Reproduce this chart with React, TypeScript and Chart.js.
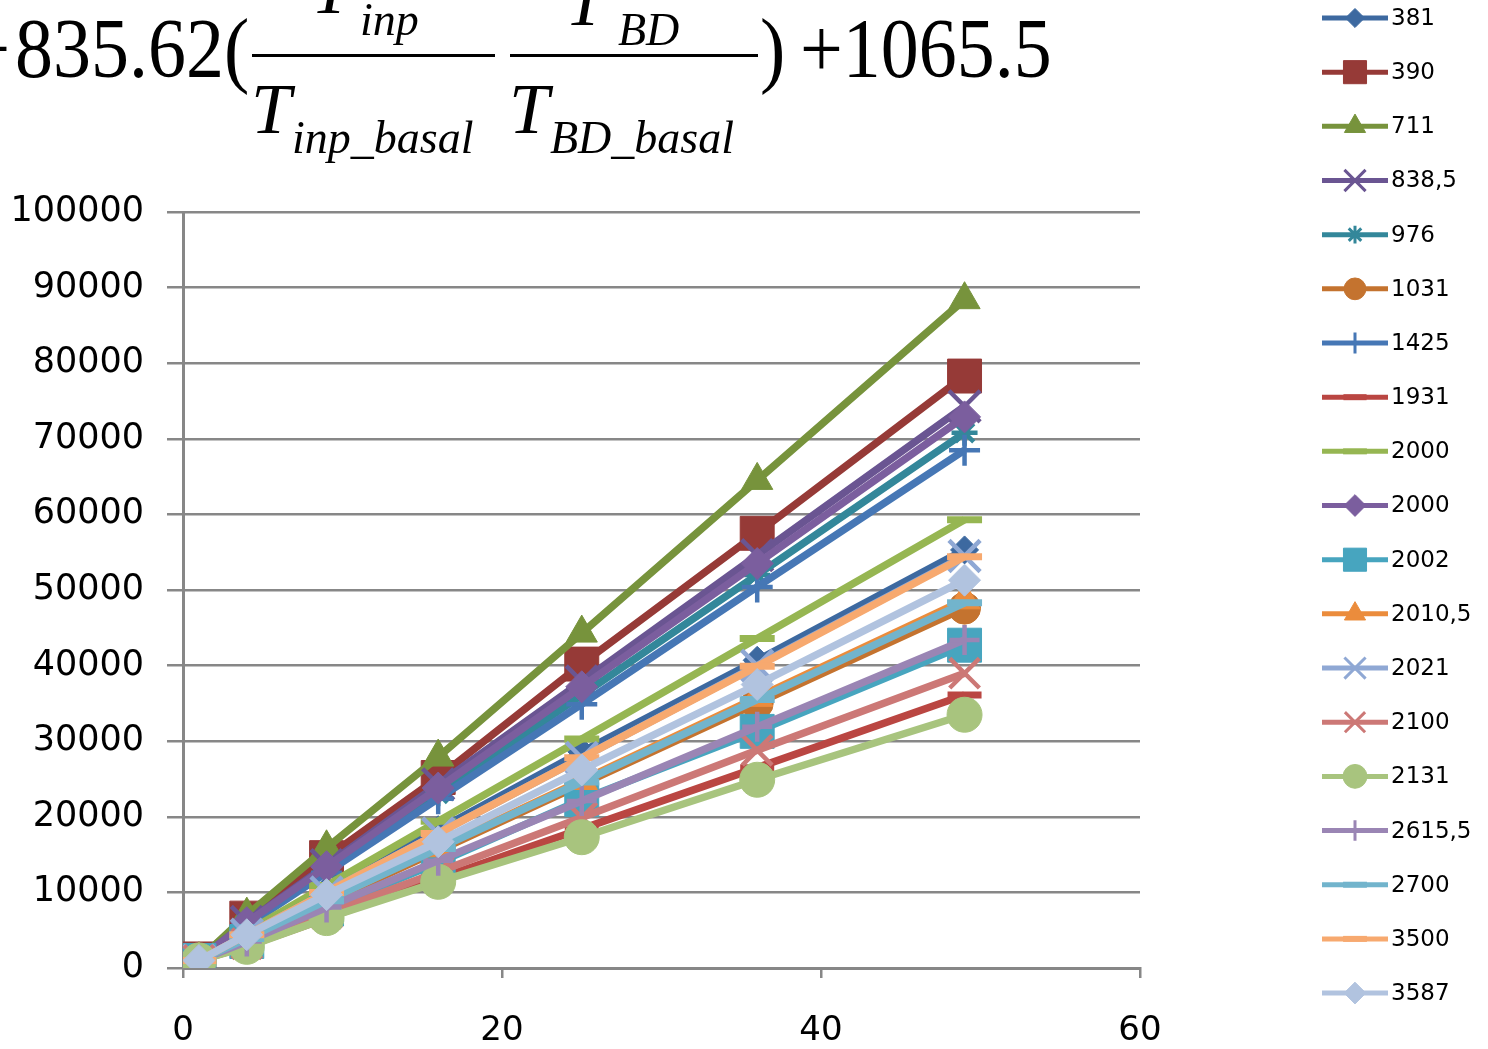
import React, { useEffect, useRef } from 'react';
import { Chart, registerables } from 'chart.js';
import { drawPoint } from 'chart.js/helpers';

Chart.register(...registerables);

// ---- data ----
const xValues = [1, 4, 9, 16, 25, 36, 49];
const seriesNames = ['381', '390', '711', '838,5', '976', '1031', '1425', '1931', '2000', '2000', '2002', '2010,5', '2021', '2100', '2131', '2615,5', '2700', '3500', '3587'];
const s381 = [1100, 4500, 10300, 18300, 28600, 40700, 55300];
const s390 = [1200, 6600, 14600, 25200, 40200, 57500, 78300];
const s711 = [1100, 7000, 15900, 27900, 44300, 64500, 88400];
const s838 = [1100, 6100, 13600, 24300, 37900, 54600, 74300];
const s976 = [1100, 5800, 13000, 23100, 36100, 52000, 70800];
const s1031 = [1000, 3900, 8700, 15500, 24300, 35000, 47600];
const s1425 = [1100, 5600, 12600, 22400, 34900, 50400, 68500];
const s1931 = [1000, 2900, 6600, 11800, 18400, 26500, 36100];
const s2000a = [1100, 4800, 10900, 19400, 30300, 43600, 59300];
const s2000b = [1100, 6000, 13400, 23800, 37200, 53500, 72900];
const s2002 = [1000, 3500, 7800, 13900, 22300, 31300, 42700];
const s2010 = [1000, 4000, 8900, 15900, 24800, 35800, 48700];
const s2021 = [1000, 4400, 10000, 17800, 27800, 40000, 54500];
const s2100 = [1000, 3200, 7200, 12700, 19900, 28800, 39000];
const s2131 = [1000, 2800, 6600, 11400, 17300, 24900, 33500];
const s2615 = [1000, 3500, 8000, 14200, 22100, 31900, 43400];
const s2700 = [1000, 3900, 8900, 15800, 24600, 35500, 48300];
const s3500 = [1000, 4400, 10000, 17800, 27800, 39900, 54400];
const s3587 = [1000, 4400, 9700, 16700, 26200, 37500, 51300];
const seriesValues = [s381, s390, s711, s838, s976, s1031, s1425, s1931, s2000a, s2000b, s2002, s2010, s2021, s2100, s2131, s2615, s2700, s3500, s3587];
const xTicks = [0, 20, 40, 60];
const yMax = 100000;
const yStep = 10000;

// ---- styles ----
const colors = ['#3D69A0', '#963A37', '#77933C', '#6A5592', '#33879A', '#C4732F', '#4677B5', '#BA4642', '#96B652', '#7B5E9E', '#47A5BF', '#EB8C3C', '#8FA8D4', '#CC7876', '#A8C47E', '#9A85B4', '#72B4CC', '#F7A96F', '#B1C3DF'];
const pointStyles = ['rectRot', 'rect', 'triangle', 'crossRot', 'star', 'circle', 'cross', 'line', 'line', 'rectRot', 'rect', 'triangle', 'crossRot', 'crossRot', 'circle', 'cross', 'line', 'line', 'rectRot'];
const pointRadii = [14, 24, 18, 22, 13, 16, 15.5, 17, 17.5, 16, 24, 18, 22, 21, 17.5, 15, 17.5, 17.5, 16];
const strokeStyles = new Set(['cross', 'crossRot', 'star', 'line']);

const legendPlugin = {
  id: 'sideLegend',
  afterDraw(chart: any) {
    const ctx = chart.ctx;
    chart.data.datasets.forEach((ds: any, i: number) => {
      const y = 18 + i * 54.17;
      ctx.save();
      ctx.strokeStyle = ds.borderColor;
      ctx.lineWidth = 5;
      ctx.lineCap = 'butt';
      ctx.beginPath();
      ctx.moveTo(1322, y);
      ctx.lineTo(1388, y);
      ctx.stroke();
      const ps = ds.pointStyle;
      const isStroke = strokeStyles.has(ps);
      ctx.fillStyle = ds.borderColor;
      ctx.strokeStyle = ds.borderColor;
      ctx.lineWidth = isStroke ? (ps === 'line' ? 6 : 3) : 1;
      drawPoint(ctx, { pointStyle: ps, rotation: 0, radius: ds.pointRadius * 0.68, borderWidth: ctx.lineWidth }, 1355, y);
      ctx.fillStyle = '#000';
      ctx.font = '23px "DejaVu Sans"';
      ctx.textBaseline = 'middle';
      ctx.textAlign = 'left';
      ctx.fillText(ds.label, 1391, y + 1);
      ctx.restore();
    });
  },
};

function Formula() {
  const serif = "'Liberation Serif', 'Times New Roman', serif";
  return (
    <svg width={1488} height={175} style={{ position: 'absolute', left: 0, top: 0, pointerEvents: 'none' }}>
      <g fontFamily={serif} fill="#000">
        <text transform="translate(10,77) scale(1,1.12)" fontSize={76} textAnchor="end">−</text>
        <text transform="translate(15,77) scale(1,1.12)" fontSize={76}>835.62(</text>
        <rect x={252} y={54} width={243} height={3} />
        <rect x={510} y={54} width={248} height={3} />
        <text transform="translate(311,13)" fontSize={72} fontStyle="italic">T</text>
        <text transform="translate(360,35)" fontSize={46} fontStyle="italic">inp</text>
        <text transform="translate(565,25)" fontSize={72} fontStyle="italic">T</text>
        <text transform="translate(618,45)" fontSize={46} fontStyle="italic">BD</text>
        <text transform="translate(251,133)" fontSize={72} fontStyle="italic">T</text>
        <text transform="translate(292,153)" fontSize={46} fontStyle="italic">inp_basal</text>
        <text transform="translate(509,133)" fontSize={72} fontStyle="italic">T</text>
        <text transform="translate(550,153)" fontSize={46} fontStyle="italic">BD_basal</text>
        <text transform="translate(760,77) scale(1,1.12)" fontSize={76}>)</text>
        <text transform="translate(800,77) scale(1,1.12)" fontSize={76}>+1065.5</text>
      </g>
    </svg>
  );
}

export default function App() {
  const ref = useRef<HTMLCanvasElement | null>(null);
  useEffect(() => {
    if (!ref.current) return;
    const n = seriesNames.length;
    const datasets = seriesNames.map((name, i) => {
      const ps = pointStyles[i];
      const isStroke = strokeStyles.has(ps);
      return {
        label: name,
        data: xValues.map((x, j) => ({ x, y: seriesValues[i][j] })),
        borderColor: colors[i],
        backgroundColor: colors[i],
        borderWidth: 7.5,
        pointStyle: ps,
        pointRadius: pointRadii[i],
        pointBackgroundColor: colors[i],
        pointBorderColor: colors[i],
        pointBorderWidth: isStroke ? (ps === 'line' ? 7 : 4.5) : 1,
        tension: 0,
        order: n - 1 - i,
      };
    });
    const chart = new Chart(ref.current, {
      type: 'line',
      data: { datasets },
      plugins: [legendPlugin],
      options: {
        animation: false,
        responsive: false,
        maintainAspectRatio: false,
        layout: { padding: { top: 212, right: 348, left: 0, bottom: 0 } },
        plugins: { legend: { display: false }, tooltip: { enabled: false }, title: { display: false } },
        scales: {
          x: {
            type: 'linear',
            min: 0,
            max: 60,
            afterFit: (s: any) => { s.height = 81; },
            afterBuildTicks: (s: any) => { s.ticks = xTicks.map((v) => ({ value: v })); },
            grid: { drawOnChartArea: false, drawTicks: true, tickLength: 10, color: '#878787', lineWidth: 2.5 },
            border: { color: '#878787', width: 3 },
            ticks: { color: '#000', font: { family: 'DejaVu Sans', size: 34 }, padding: 33, maxRotation: 0, autoSkip: false, callback: (v: any) => String(v) },
          },
          y: {
            type: 'linear',
            min: 0,
            max: yMax,
            afterFit: (s: any) => { s.width = 183; },
            grid: { color: '#878787', lineWidth: 2.5, tickLength: 16, drawTicks: true },
            border: { color: '#878787', width: 3 },
            ticks: { stepSize: yStep, color: '#000', font: { family: 'DejaVu Sans', size: 35 }, padding: 23, callback: (v: any) => String(v) },
          },
        },
      },
    } as any);
    return () => chart.destroy();
  }, []);
  return (
    <div style={{ position: 'fixed', left: 0, top: 0, width: 1488, height: 1049, background: '#fff', overflow: 'hidden' }}>
      <canvas ref={ref} width={1488} height={1049} style={{ position: 'absolute', left: 0, top: 0, width: 1488, height: 1049 }} />
      <Formula />
    </div>
  );
}
